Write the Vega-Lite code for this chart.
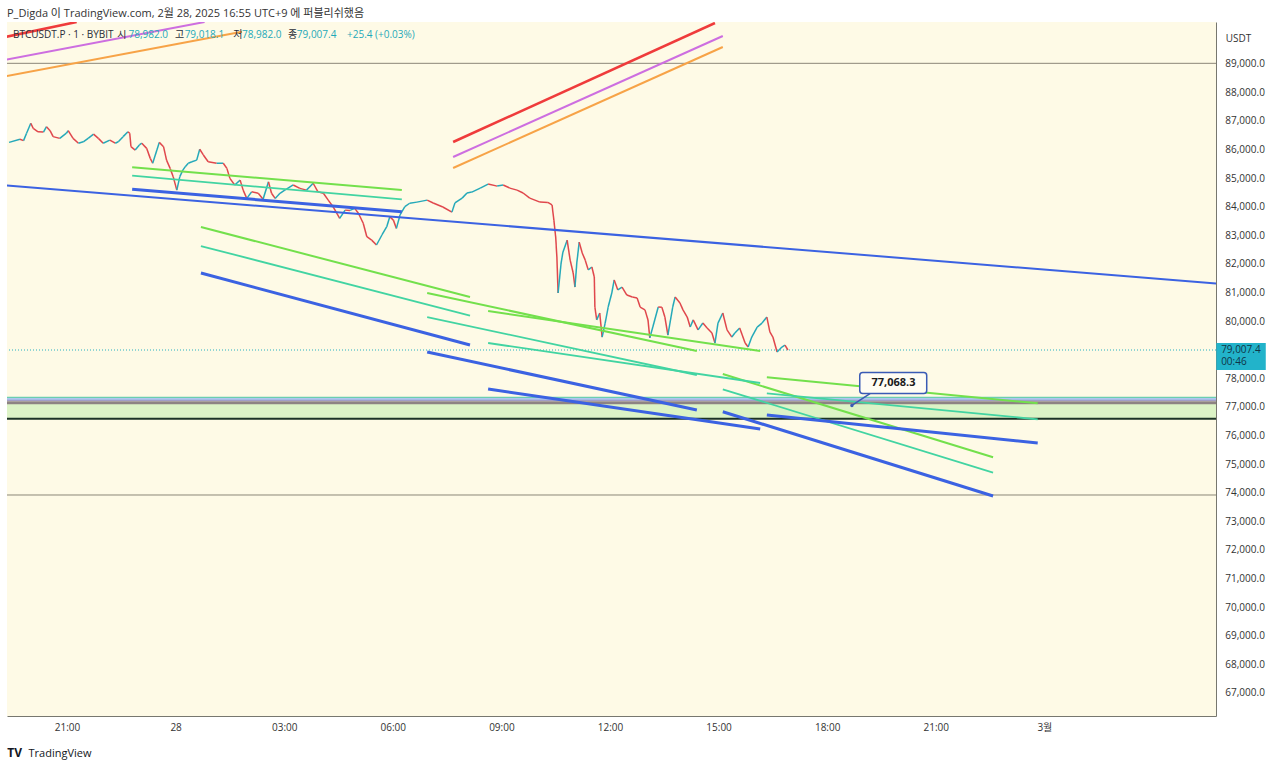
{
"$schema":"https://vega.github.io/schema/vega-lite/v6.json",
"width":1209,"height":694,
"autosize":{"type":"none"},
"padding":{"left":7,"top":22,"right":64,"bottom":53},
"background":"#ffffff",
"title":{"text":"P_Digda 이 TradingView.com, 2월 28, 2025 16:55 UTC+9 에 퍼블리쉬했음","anchor":"start","frame":"group","baseline":"alphabetic","offset":6,"dy":12,"fontSize":11,"fontWeight":"normal","color":"#333333","font":"Open Sans, Noto Sans CJK KR, sans-serif"},
"config":{"view":{"fill":"#fefae6","stroke":null},"font":"Open Sans, Noto Sans CJK KR, sans-serif",
 "axis":{"grid":false,"ticks":false,"tickSize":0,"labelOverlap":false,"domainColor":"#77776f","domainWidth":1,"labelColor":"#333333","labelFontSize":10,"labelFont":"Open Sans, Noto Sans CJK KR, sans-serif","titleFont":"Open Sans, sans-serif","titleFontWeight":"normal","titleColor":"#333333"}},
"datasets":{
 "drawings":[
  {"id":"T","kind":"trend","t":"2025-02-27T19:00:00Z","p":84796},{"id":"T","kind":"trend","t":"2025-03-01T06:00:00Z","p":81204},
  {"id":"Ra","kind":"rise_upper","t":"2025-02-27T19:20:00Z","p":89967},{"id":"Ra","kind":"rise_upper","t":"2025-02-27T21:16:00Z","p":90480},
  {"id":"Pa","kind":"rise_middle","t":"2025-02-27T19:20:00Z","p":89165},{"id":"Pa","kind":"rise_middle","t":"2025-02-28T00:48:00Z","p":90480},
  {"id":"Oa","kind":"rise_lower","t":"2025-02-27T19:20:00Z","p":88590},{"id":"Oa","kind":"rise_lower","t":"2025-02-28T01:50:00Z","p":90140},
  {"id":"Rb","kind":"rise_upper","t":"2025-02-28T07:40:00Z","p":86282},{"id":"Rb","kind":"rise_upper","t":"2025-02-28T14:54:00Z","p":90445},
  {"id":"Pb","kind":"rise_middle","t":"2025-02-28T07:40:00Z","p":85758},{"id":"Pb","kind":"rise_middle","t":"2025-02-28T15:07:00Z","p":89990},
  {"id":"Ob","kind":"rise_lower","t":"2025-02-28T07:40:00Z","p":85373},{"id":"Ob","kind":"rise_lower","t":"2025-02-28T15:07:00Z","p":89605},
  {"id":"S1u","kind":"upper","t":"2025-02-27T22:48:00Z","p":85397},{"id":"S1u","kind":"upper","t":"2025-02-28T06:15:00Z","p":84603},
  {"id":"S1m","kind":"middle","t":"2025-02-27T22:48:00Z","p":85104},{"id":"S1m","kind":"middle","t":"2025-02-28T06:15:00Z","p":84278},
  {"id":"S1l","kind":"lower","t":"2025-02-27T22:48:00Z","p":84628},{"id":"S1l","kind":"lower","t":"2025-02-28T06:15:00Z","p":83844},
  {"id":"S2u","kind":"upper","t":"2025-02-28T00:42:00Z","p":83309},{"id":"S2u","kind":"upper","t":"2025-02-28T08:08:00Z","p":80861},
  {"id":"S2m","kind":"middle","t":"2025-02-28T00:42:00Z","p":82645},{"id":"S2m","kind":"middle","t":"2025-02-28T08:08:00Z","p":80214},
  {"id":"S2l","kind":"lower","t":"2025-02-28T00:42:00Z","p":81700},{"id":"S2l","kind":"lower","t":"2025-02-28T08:08:00Z","p":79182},
  {"id":"S3u","kind":"upper","t":"2025-02-28T06:57:00Z","p":81001},{"id":"S3u","kind":"upper","t":"2025-02-28T14:24:00Z","p":78972},
  {"id":"S3m","kind":"middle","t":"2025-02-28T06:57:00Z","p":80161},{"id":"S3m","kind":"middle","t":"2025-02-28T14:24:00Z","p":78133},
  {"id":"S3l","kind":"lower","t":"2025-02-28T06:57:00Z","p":78937},{"id":"S3l","kind":"lower","t":"2025-02-28T14:24:00Z","p":76908},
  {"id":"S4u","kind":"upper","t":"2025-02-28T08:38:00Z","p":80371},{"id":"S4u","kind":"upper","t":"2025-02-28T16:09:00Z","p":78972},
  {"id":"S4m","kind":"middle","t":"2025-02-28T08:38:00Z","p":79252},{"id":"S4m","kind":"middle","t":"2025-02-28T16:09:00Z","p":77853},
  {"id":"S4l","kind":"lower","t":"2025-02-28T08:38:00Z","p":77643},{"id":"S4l","kind":"lower","t":"2025-02-28T16:09:00Z","p":76244},
  {"id":"S5u","kind":"upper","t":"2025-02-28T15:07:00Z","p":78168},{"id":"S5u","kind":"upper","t":"2025-02-28T22:35:00Z","p":75254},
  {"id":"S5m","kind":"middle","t":"2025-02-28T15:07:00Z","p":77632},{"id":"S5m","kind":"middle","t":"2025-02-28T22:35:00Z","p":74716},
  {"id":"S5l","kind":"lower","t":"2025-02-28T15:07:00Z","p":76849},{"id":"S5l","kind":"lower","t":"2025-02-28T22:35:00Z","p":73900},
  {"id":"S6u","kind":"upper","t":"2025-02-28T16:20:00Z","p":78052},{"id":"S6u","kind":"upper","t":"2025-02-28T23:49:00Z","p":77143},
  {"id":"S6m","kind":"middle","t":"2025-02-28T16:20:00Z","p":77493},{"id":"S6m","kind":"middle","t":"2025-02-28T23:49:00Z","p":76583},
  {"id":"S6l","kind":"lower","t":"2025-02-28T16:20:00Z","p":76734},{"id":"S6l","kind":"lower","t":"2025-02-28T23:49:00Z","p":75754}
 ],
 "legendline":[
  {"t":"2025-02-27T19:30:30Z","p":90025,"text":"BTCUSDT.P · 1 · BYBIT","part":"label"},
  {"t":"2025-02-27T22:23:24Z","p":90025,"text":"시","part":"label"},
  {"t":"2025-02-27T22:42:00Z","p":90025,"text":"78,982.0","part":"value"},
  {"t":"2025-02-27T23:59:00Z","p":90025,"text":"고","part":"label"},
  {"t":"2025-02-28T00:15:00Z","p":90025,"text":"79,018.1","part":"value"},
  {"t":"2025-02-28T01:35:36Z","p":90025,"text":"저","part":"label"},
  {"t":"2025-02-28T01:50:00Z","p":90025,"text":"78,982.0","part":"value"},
  {"t":"2025-02-28T03:06:18Z","p":90025,"text":"종","part":"label"},
  {"t":"2025-02-28T03:21:00Z","p":90025,"text":"79,007.4","part":"value"},
  {"t":"2025-02-28T04:44:06Z","p":90025,"text":"+25.4 (+0.03%)","part":"value"}
 ],
 "pricelevels":[{"p":67000},{"p":68000},{"p":69000},{"p":70000},{"p":71000},{"p":72000},{"p":73000},{"p":74000},{"p":75000},{"p":76000},{"p":77000},{"p":78000},{"p":80000},{"p":81000},{"p":82000},{"p":83000},{"p":84000},{"p":85000},{"p":86000},{"p":87000},{"p":88000},{"p":89000}]
},
"layer":[
 {"data":{"format":{"parse":{"t":"date"}},"values":[
  {"t":"2025-02-27T19:24:00Z","p":86270},{"t":"2025-02-27T19:42:00Z","p":86380},{"t":"2025-02-27T19:48:00Z","p":86330},{"t":"2025-02-27T19:53:00Z","p":86590},{"t":"2025-02-27T20:00:00Z","p":86940},{"t":"2025-02-27T20:04:00Z","p":86760},{"t":"2025-02-27T20:12:00Z","p":86640},{"t":"2025-02-27T20:21:00Z","p":86630},{"t":"2025-02-27T20:26:00Z","p":86820},{"t":"2025-02-27T20:32:00Z","p":86680},
  {"t":"2025-02-27T20:37:00Z","p":86470},{"t":"2025-02-27T20:48:00Z","p":86410},{"t":"2025-02-27T20:59:00Z","p":86590},{"t":"2025-02-27T21:02:00Z","p":86680},{"t":"2025-02-27T21:10:00Z","p":86410},{"t":"2025-02-27T21:19:00Z","p":86240},{"t":"2025-02-27T21:27:00Z","p":86290},{"t":"2025-02-27T21:35:00Z","p":86410},{"t":"2025-02-27T21:44:00Z","p":86560},{"t":"2025-02-27T21:52:00Z","p":86410},
  {"t":"2025-02-27T22:00:00Z","p":86240},{"t":"2025-02-27T22:11:00Z","p":86350},{"t":"2025-02-27T22:20:00Z","p":86240},{"t":"2025-02-27T22:25:00Z","p":86290},{"t":"2025-02-27T22:33:00Z","p":86470},{"t":"2025-02-27T22:41:00Z","p":86640},{"t":"2025-02-27T22:44:00Z","p":86590},{"t":"2025-02-27T22:46:00Z","p":86120},{"t":"2025-02-27T22:53:00Z","p":86000},{"t":"2025-02-27T23:00:00Z","p":86180},
  {"t":"2025-02-27T23:04:00Z","p":86240},{"t":"2025-02-27T23:12:00Z","p":86060},{"t":"2025-02-27T23:18:00Z","p":85710},{"t":"2025-02-27T23:22:00Z","p":85540},{"t":"2025-02-27T23:29:00Z","p":86000},{"t":"2025-02-27T23:33:00Z","p":86270},{"t":"2025-02-27T23:40:00Z","p":86120},{"t":"2025-02-27T23:45:00Z","p":85650},{"t":"2025-02-27T23:51:00Z","p":85360},{"t":"2025-02-27T23:56:00Z","p":85070},
  {"t":"2025-02-28T00:02:00Z","p":84600},{"t":"2025-02-28T00:07:00Z","p":85070},{"t":"2025-02-28T00:12:00Z","p":85300},{"t":"2025-02-28T00:16:00Z","p":85420},{"t":"2025-02-28T00:21:00Z","p":85540},{"t":"2025-02-28T00:27:00Z","p":85590},{"t":"2025-02-28T00:35:00Z","p":85650},{"t":"2025-02-28T00:40:00Z","p":86030},{"t":"2025-02-28T00:46:00Z","p":85830},{"t":"2025-02-28T00:54:00Z","p":85590},
  {"t":"2025-02-28T01:08:00Z","p":85540},{"t":"2025-02-28T01:19:00Z","p":85540},{"t":"2025-02-28T01:25:00Z","p":85360},{"t":"2025-02-28T01:30:00Z","p":85010},{"t":"2025-02-28T01:38:00Z","p":84780},{"t":"2025-02-28T01:47:00Z","p":84950},{"t":"2025-02-28T01:52:00Z","p":84600},{"t":"2025-02-28T01:58:00Z","p":84310},{"t":"2025-02-28T02:06:00Z","p":84540},{"t":"2025-02-28T02:17:00Z","p":84490},
  {"t":"2025-02-28T02:25:00Z","p":84280},{"t":"2025-02-28T02:34:00Z","p":84890},{"t":"2025-02-28T02:39:00Z","p":84490},{"t":"2025-02-28T02:45:00Z","p":84310},{"t":"2025-02-28T02:53:00Z","p":84490},{"t":"2025-02-28T03:01:00Z","p":84600},{"t":"2025-02-28T03:15:00Z","p":84780},{"t":"2025-02-28T03:26:00Z","p":84660},{"t":"2025-02-28T03:37:00Z","p":84600},{"t":"2025-02-28T03:48:00Z","p":84840},
  {"t":"2025-02-28T03:56:00Z","p":84540},{"t":"2025-02-28T04:05:00Z","p":84490},{"t":"2025-02-28T04:13:00Z","p":84250},{"t":"2025-02-28T04:21:00Z","p":84020},{"t":"2025-02-28T04:32:00Z","p":83610},{"t":"2025-02-28T04:41:00Z","p":83900},{"t":"2025-02-28T04:49:00Z","p":83890},{"t":"2025-02-28T04:57:00Z","p":83960},{"t":"2025-02-28T05:03:00Z","p":83790},{"t":"2025-02-28T05:11:00Z","p":83440},
  {"t":"2025-02-28T05:17:00Z","p":82970},{"t":"2025-02-28T05:25:00Z","p":82850},{"t":"2025-02-28T05:33:00Z","p":82680},{"t":"2025-02-28T05:42:00Z","p":83030},{"t":"2025-02-28T05:50:00Z","p":83320},{"t":"2025-02-28T05:55:00Z","p":83670},{"t":"2025-02-28T06:01:00Z","p":83550},{"t":"2025-02-28T06:06:00Z","p":83260},{"t":"2025-02-28T06:12:00Z","p":83730},{"t":"2025-02-28T06:20:00Z","p":84020},
  {"t":"2025-02-28T06:28:00Z","p":84140},{"t":"2025-02-28T06:40:00Z","p":84180},{"t":"2025-02-28T06:57:00Z","p":84250},{"t":"2025-02-28T07:07:00Z","p":84150},{"t":"2025-02-28T07:23:00Z","p":84010},{"t":"2025-02-28T07:38:00Z","p":83830},{"t":"2025-02-28T07:43:00Z","p":84150},{"t":"2025-02-28T07:55:00Z","p":84320},{"t":"2025-02-28T08:03:00Z","p":84500},{"t":"2025-02-28T08:11:00Z","p":84530},
  {"t":"2025-02-28T08:25:00Z","p":84670},{"t":"2025-02-28T08:38:00Z","p":84810},{"t":"2025-02-28T08:53:00Z","p":84740},{"t":"2025-02-28T09:03:00Z","p":84780},{"t":"2025-02-28T09:14:00Z","p":84670},{"t":"2025-02-28T09:26:00Z","p":84600},{"t":"2025-02-28T09:36:00Z","p":84500},{"t":"2025-02-28T09:47:00Z","p":84320},{"t":"2025-02-28T10:04:00Z","p":84180},{"t":"2025-02-28T10:17:00Z","p":84170},
  {"t":"2025-02-28T10:24:00Z","p":84080},{"t":"2025-02-28T10:27:00Z","p":83550},{"t":"2025-02-28T10:30:00Z","p":82960},{"t":"2025-02-28T10:32:00Z","p":82260},{"t":"2025-02-28T10:34:00Z","p":81000},{"t":"2025-02-28T10:39:00Z","p":82050},{"t":"2025-02-28T10:42:00Z","p":82430},{"t":"2025-02-28T10:49:00Z","p":82850},{"t":"2025-02-28T10:54:00Z","p":82150},{"t":"2025-02-28T10:59:00Z","p":81700},
  {"t":"2025-02-28T11:02:00Z","p":81210},{"t":"2025-02-28T11:05:00Z","p":82050},{"t":"2025-02-28T11:09:00Z","p":82780},{"t":"2025-02-28T11:14:00Z","p":82400},{"t":"2025-02-28T11:19:00Z","p":82150},{"t":"2025-02-28T11:24:00Z","p":81810},{"t":"2025-02-28T11:30:00Z","p":81910},{"t":"2025-02-28T11:34:00Z","p":81560},{"t":"2025-02-28T11:35:00Z","p":80510},{"t":"2025-02-28T11:38:00Z","p":80060},
  {"t":"2025-02-28T11:43:00Z","p":80300},{"t":"2025-02-28T11:47:00Z","p":79460},{"t":"2025-02-28T11:52:00Z","p":79950},{"t":"2025-02-28T11:57:00Z","p":80510},{"t":"2025-02-28T12:03:00Z","p":81000},{"t":"2025-02-28T12:07:00Z","p":81460},{"t":"2025-02-28T12:13:00Z","p":81110},{"t":"2025-02-28T12:20:00Z","p":81210},{"t":"2025-02-28T12:28:00Z","p":80930},{"t":"2025-02-28T12:37:00Z","p":80860},
  {"t":"2025-02-28T12:45:00Z","p":80830},{"t":"2025-02-28T12:50:00Z","p":80510},{"t":"2025-02-28T12:58:00Z","p":80410},{"t":"2025-02-28T13:03:00Z","p":80060},{"t":"2025-02-28T13:06:00Z","p":79430},{"t":"2025-02-28T13:11:00Z","p":79810},{"t":"2025-02-28T13:20:00Z","p":80510},{"t":"2025-02-28T13:26:00Z","p":80500},{"t":"2025-02-28T13:31:00Z","p":80160},{"t":"2025-02-28T13:36:00Z","p":79530},
  {"t":"2025-02-28T13:44:00Z","p":80510},{"t":"2025-02-28T13:48:00Z","p":80860},{"t":"2025-02-28T13:56:00Z","p":80650},{"t":"2025-02-28T14:01:00Z","p":80410},{"t":"2025-02-28T14:08:00Z","p":80160},{"t":"2025-02-28T14:13:00Z","p":79810},{"t":"2025-02-28T14:18:00Z","p":80060},{"t":"2025-02-28T14:26:00Z","p":79710},{"t":"2025-02-28T14:34:00Z","p":79950},{"t":"2025-02-28T14:41:00Z","p":79780},
  {"t":"2025-02-28T14:49:00Z","p":79600},{"t":"2025-02-28T14:54:00Z","p":79250},{"t":"2025-02-28T14:59:00Z","p":79950},{"t":"2025-02-28T15:07:00Z","p":80300},{"t":"2025-02-28T15:14:00Z","p":79710},{"t":"2025-02-28T15:22:00Z","p":79460},{"t":"2025-02-28T15:27:00Z","p":79600},{"t":"2025-02-28T15:35:00Z","p":79780},{"t":"2025-02-28T15:44:00Z","p":79250},{"t":"2025-02-28T15:49:00Z","p":79110},
  {"t":"2025-02-28T15:55:00Z","p":79460},{"t":"2025-02-28T16:04:00Z","p":79810},{"t":"2025-02-28T16:12:00Z","p":79950},{"t":"2025-02-28T16:20:00Z","p":80160},{"t":"2025-02-28T16:25:00Z","p":79640},{"t":"2025-02-28T16:30:00Z","p":79460},{"t":"2025-02-28T16:37:00Z","p":78940},{"t":"2025-02-28T16:45:00Z","p":79110},{"t":"2025-02-28T16:50:00Z","p":79180},{"t":"2025-02-28T16:55:00Z","p":79007.4}
 ]},
 "transform":[{"window":[{"op":"lead","field":"t","as":"t2"},{"op":"lead","field":"p","as":"p2"}],"sort":[{"field":"t","order":"ascending"}]},{"filter":"datum.t2 != null"}],
 "mark":{"type":"rule","strokeWidth":1.5},
 "encoding":{
  "x":{"field":"t","type":"temporal","scale":{"type":"utc","domain":[{"year":2025,"month":2,"date":27,"hours":19,"minutes":20,"seconds":33,"utc":true},{"year":2025,"month":3,"date":1,"hours":4,"minutes":44,"seconds":30,"utc":true}]},
   "axis":{"orient":"bottom","values":[{"year":2025,"month":2,"date":27,"hours":21,"utc":true},{"year":2025,"month":2,"date":28,"hours":0,"utc":true},{"year":2025,"month":2,"date":28,"hours":3,"utc":true},{"year":2025,"month":2,"date":28,"hours":6,"utc":true},{"year":2025,"month":2,"date":28,"hours":9,"utc":true},{"year":2025,"month":2,"date":28,"hours":12,"utc":true},{"year":2025,"month":2,"date":28,"hours":15,"utc":true},{"year":2025,"month":2,"date":28,"hours":18,"utc":true},{"year":2025,"month":2,"date":28,"hours":21,"utc":true},{"year":2025,"month":3,"date":1,"hours":0,"utc":true}],
    "labelExpr":"utchours(datum.value)==0 ? (utcdate(datum.value)==1 ? '3월' : ''+utcdate(datum.value)) : utcFormat(datum.value,'%H:%M')",
    "labelPadding":6,"labelFlush":false,"labelOverlap":false,
    "title":"TradingView","titleAnchor":"start","titleAlign":"left","titleX":21,"titleY":37,"titleBaseline":"middle","titleFontSize":11,"titleColor":"#131722"}},
  "x2":{"field":"t2"},
  "y":{"field":"p","type":"quantitative","scale":{"domain":[66206,90480],"zero":false,"nice":false},
   "axis":{"orient":"right","labels":false,"values":[67000,68000,69000,70000,71000,72000,73000,74000,75000,76000,77000,78000,80000,81000,82000,83000,84000,85000,86000,87000,88000,89000],
    "title":"USDT","titleAngle":0,"titleX":22,"titleY":16,"titleAlign":"center","titleBaseline":"middle","titleFontSize":10}},
  "y2":{"field":"p2"},
  "color":{"condition":{"test":"datum.p2 >= datum.p","value":"#25a9b9"},"value":"#e0474c"}
 }},
 {"data":{"values":[{"p":77118,"p2":76628}]},"mark":{"type":"rect","color":"#dcf3c6"},"encoding":{"y":{"field":"p","type":"quantitative"},"y2":{"field":"p2"}}},
 {"data":{"values":[{"level":"upper","p":89035},{"level":"lower","p":73936}]},"mark":{"type":"rule","color":"#8b8678","strokeWidth":1},"encoding":{"y":{"field":"p","type":"quantitative"}}},
 {"data":{"values":[{"p":77353}]},"mark":{"type":"rule","color":"#47c3a3","strokeWidth":1},"encoding":{"y":{"field":"p","type":"quantitative"}}},
 {"data":{"values":[{"p":77294}]},"mark":{"type":"rule","color":"#93b6f0","strokeWidth":1.5},"encoding":{"y":{"field":"p","type":"quantitative"}}},
 {"data":{"values":[{"p":77248}]},"mark":{"type":"rule","color":"#8a86c0","strokeWidth":1},"encoding":{"y":{"field":"p","type":"quantitative"}}},
 {"data":{"values":[{"p":77164}]},"mark":{"type":"rule","color":"#8d8383","strokeWidth":3},"encoding":{"y":{"field":"p","type":"quantitative"}}},
 {"data":{"values":[{"p":76604}]},"mark":{"type":"rule","color":"#1b3325","strokeWidth":2},"encoding":{"y":{"field":"p","type":"quantitative"}}},
 {"data":{"values":[{"p":79007.4}]},"mark":{"type":"rule","color":"#26b0c0","strokeWidth":1,"strokeDash":[1,2]},"encoding":{"y":{"field":"p","type":"quantitative"}}},
 {"data":{"name":"drawings"},"transform":[{"filter":"datum.kind == 'trend'"}],"mark":{"type":"line","color":"#3b62e2","strokeWidth":2,"clip":true},"encoding":{"x":{"field":"t","type":"temporal"},"y":{"field":"p","type":"quantitative"},"detail":{"field":"id"}}},
 {"data":{"name":"drawings"},"transform":[{"filter":"datum.kind == 'upper'"}],"mark":{"type":"line","color":"#73e04c","strokeWidth":2,"clip":true},"encoding":{"x":{"field":"t","type":"temporal"},"y":{"field":"p","type":"quantitative"},"detail":{"field":"id"}}},
 {"data":{"name":"drawings"},"transform":[{"filter":"datum.kind == 'middle'"}],"mark":{"type":"line","color":"#42d4a2","strokeWidth":1.8,"clip":true},"encoding":{"x":{"field":"t","type":"temporal"},"y":{"field":"p","type":"quantitative"},"detail":{"field":"id"}}},
 {"data":{"name":"drawings"},"transform":[{"filter":"datum.kind == 'lower'"}],"mark":{"type":"line","color":"#3b62e2","strokeWidth":3,"clip":true},"encoding":{"x":{"field":"t","type":"temporal"},"y":{"field":"p","type":"quantitative"},"detail":{"field":"id"}}},
 {"data":{"name":"drawings"},"transform":[{"filter":"datum.kind == 'rise_upper'"}],"mark":{"type":"line","color":"#ef3b3b","strokeWidth":2.6,"clip":true},"encoding":{"x":{"field":"t","type":"temporal"},"y":{"field":"p","type":"quantitative"},"detail":{"field":"id"}}},
 {"data":{"name":"drawings"},"transform":[{"filter":"datum.kind == 'rise_middle'"}],"mark":{"type":"line","color":"#cd6ee0","strokeWidth":2,"clip":true},"encoding":{"x":{"field":"t","type":"temporal"},"y":{"field":"p","type":"quantitative"},"detail":{"field":"id"}}},
 {"data":{"name":"drawings"},"transform":[{"filter":"datum.kind == 'rise_lower'"}],"mark":{"type":"line","color":"#f7a347","strokeWidth":2,"clip":true},"encoding":{"x":{"field":"t","type":"temporal"},"y":{"field":"p","type":"quantitative"},"detail":{"field":"id"}}},
 {"data":{"values":[{"t":"2025-02-28T19:11:00Z","p":77486,"t2":"2025-02-28T18:41:00Z","p2":77068.3}]},"mark":{"type":"rule","color":"#3a5bb5","strokeWidth":1.5},"encoding":{"x":{"field":"t","type":"temporal"},"x2":{"field":"t2"},"y":{"field":"p","type":"quantitative"},"y2":{"field":"p2"}}},
 {"data":{"values":[{"t":"2025-02-28T18:41:00Z","p":77068.3}]},"mark":{"type":"point","filled":true,"color":"#3a5bb5","size":12,"opacity":1},"encoding":{"x":{"field":"t","type":"temporal"},"y":{"field":"p","type":"quantitative"}}},
 {"data":{"values":[{"t":"2025-02-28T18:54:00Z","t2":"2025-02-28T20:45:00Z","p":78220,"p2":77486}]},"mark":{"type":"rect","fill":"#fffdf3","stroke":"#3a5bb5","strokeWidth":1.5,"cornerRadius":3},"encoding":{"x":{"field":"t","type":"temporal"},"x2":{"field":"t2"},"y":{"field":"p","type":"quantitative"},"y2":{"field":"p2"}}},
 {"data":{"values":[{"t":"2025-02-28T19:50:00Z","p":77853,"label":"77,068.3"}]},"mark":{"type":"text","fontSize":11,"fontWeight":"bold","color":"#1c1c1c","align":"center","baseline":"middle"},"encoding":{"x":{"field":"t","type":"temporal"},"y":{"field":"p","type":"quantitative"},"text":{"field":"label"}}},
 {"data":{"name":"pricelevels"},"mark":{"type":"text","fontSize":10,"color":"#333333","align":"left","baseline":"middle","clip":false},"encoding":{"x":{"datum":{"year":2025,"month":3,"date":1,"hours":5,"minutes":0,"utc":true},"type":"temporal"},"y":{"field":"p","type":"quantitative"},"text":{"field":"p","type":"quantitative","format":",.1f"}}},
 {"data":{"values":[{"t":"2025-03-01T04:45:00Z","t2":"2025-03-01T06:07:00Z","p":79252,"p2":78307}]},"mark":{"type":"rect","fill":"#22b3ca","clip":false},"encoding":{"x":{"field":"t","type":"temporal"},"x2":{"field":"t2"},"y":{"field":"p","type":"quantitative"},"y2":{"field":"p2"}}},
 {"data":{"values":[{"t":"2025-03-01T04:53:00Z","p":79007.4,"label":"79,007.4"},{"t":"2025-03-01T04:53:00Z","p":78587,"label":"00:46"}]},"mark":{"type":"text","fontSize":10,"color":"#0f3446","align":"left","baseline":"middle","clip":false},"encoding":{"x":{"field":"t","type":"temporal"},"y":{"field":"p","type":"quantitative"},"text":{"field":"label"}}},
 {"data":{"name":"legendline"},"transform":[{"filter":"datum.part == 'label'"}],"mark":{"type":"text","fontSize":10,"color":"#2a2e39","align":"left","baseline":"middle"},"encoding":{"x":{"field":"t","type":"temporal"},"y":{"field":"p","type":"quantitative"},"text":{"field":"text"}}},
 {"data":{"name":"legendline"},"transform":[{"filter":"datum.part == 'value'"}],"mark":{"type":"text","fontSize":10,"color":"#1fa9b9","align":"left","baseline":"middle"},"encoding":{"x":{"field":"t","type":"temporal"},"y":{"field":"p","type":"quantitative"},"text":{"field":"text"}}},
 {"data":{"values":[{"t":"2025-02-27T19:21:00Z","p":64911,"label":"TV"}]},"mark":{"type":"text","fontSize":12,"fontWeight":"bold","color":"#131722","align":"left","baseline":"middle","clip":false},"encoding":{"x":{"field":"t","type":"temporal"},"y":{"field":"p","type":"quantitative"},"text":{"field":"label"}}}
]
}
